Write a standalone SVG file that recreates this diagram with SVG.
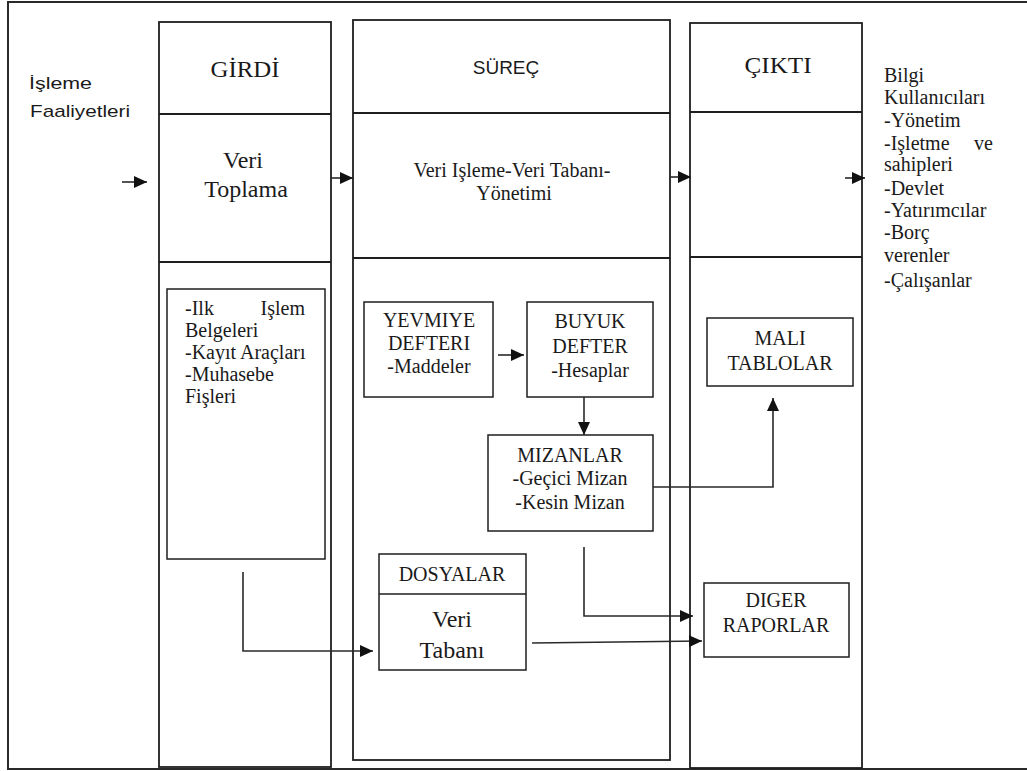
<svg xmlns="http://www.w3.org/2000/svg" width="1027" height="771" viewBox="0 0 1027 771">
<style>
.frame{fill:none;stroke:#2a2a2a;stroke-width:2}
.col{fill:none;stroke:#1e1e1e;stroke-width:1.8}
.box{fill:#fff;stroke:#1e1e1e;stroke-width:1.5}
.ser{font-family:"Liberation Serif","Times New Roman",serif;fill:#1a1a1a}
.san{font-family:"Liberation Sans",Arial,sans-serif;fill:#1a1a1a}
.c{text-anchor:middle}
.f20{font-size:20px}
.f24{font-size:24px}
.con{fill:none;stroke:#2a2a2a;stroke-width:1.6}
</style>
<defs>
<marker id="ah" markerUnits="userSpaceOnUse" markerWidth="14" markerHeight="12" refX="13" refY="6" orient="auto">
<path d="M0,0 L13,6 L0,12 z" fill="#111"/>
</marker>
</defs>
<rect width="1027" height="771" fill="#fff"/>
<path class="frame" d="M1027,2 H8 V769 H1027"/>

<g id="label-isleme">
<text class="san" font-size="17" x="29" y="89" textLength="63" lengthAdjust="spacingAndGlyphs">İşleme</text>
<text class="san" font-size="17" x="30" y="117" textLength="100" lengthAdjust="spacingAndGlyphs">Faaliyetleri</text>
</g>

<g id="col-girdi">
<rect class="col" x="159" y="22" width="172" height="745"/>
<line class="col" x1="159" y1="114" x2="331" y2="114"/>
<line class="col" x1="159" y1="262" x2="331" y2="262"/>
<text class="ser f24 c" x="245" y="77" textLength="69" lengthAdjust="spacingAndGlyphs">GİRDİ</text>
<text class="ser f24 c" x="243" y="168">Veri</text>
<text class="ser f24 c" x="246" y="197">Toplama</text>
</g>

<g id="box-belgeler">
<rect class="box" x="167" y="289" width="158" height="270"/>
<text class="ser f20" x="185" y="315">-Ilk</text>
<text class="ser f20" x="305" y="315" text-anchor="end">Işlem</text>
<text class="ser f20" x="185" y="337">Belgeleri</text>
<text class="ser f20" x="185" y="359">-Kayıt Araçları</text>
<text class="ser f20" x="185" y="381">-Muhasebe</text>
<text class="ser f20" x="185" y="403">Fişleri</text>
</g>

<g id="col-surec">
<rect class="col" x="353" y="20" width="317" height="740"/>
<line class="col" x1="353" y1="113" x2="670" y2="113"/>
<line class="col" x1="353" y1="258" x2="670" y2="258"/>
<text class="san c" font-size="19" x="506" y="74">SÜREÇ</text>
<text class="ser f20 c" x="512" y="177">Veri Işleme-Veri Tabanı-</text>
<text class="ser f20 c" x="514" y="200">Yönetimi</text>
</g>

<g id="box-yevmiye">
<rect class="box" x="364" y="302" width="129" height="95"/>
<text class="ser f20 c" x="429" y="327">YEVMIYE</text>
<text class="ser f20 c" x="429" y="350">DEFTERI</text>
<text class="ser f20 c" x="429" y="373">-Maddeler</text>
</g>

<g id="box-buyuk">
<rect class="box" x="527" y="302" width="126" height="95"/>
<text class="ser f20 c" x="590" y="328">BUYUK</text>
<text class="ser f20 c" x="590" y="353">DEFTER</text>
<text class="ser f20 c" x="590" y="377">-Hesaplar</text>
</g>

<g id="box-mizanlar">
<rect class="box" x="488" y="435" width="165" height="96"/>
<text class="ser f20 c" x="570" y="462">MIZANLAR</text>
<text class="ser f20 c" x="570" y="485">-Geçici Mizan</text>
<text class="ser f20 c" x="570" y="509">-Kesin Mizan</text>
</g>

<g id="box-dosyalar">
<rect class="box" x="379" y="554" width="147" height="116"/>
<line class="box" x1="379" y1="594" x2="526" y2="594"/>
<text class="ser f20 c" x="452" y="581">DOSYALAR</text>
<text class="ser f24 c" x="452" y="627">Veri</text>
<text class="ser f24 c" x="452" y="658">Tabanı</text>
</g>

<g id="col-cikti">
<rect class="col" x="690" y="23" width="172" height="745"/>
<line class="col" x1="690" y1="112" x2="862" y2="112"/>
<line class="col" x1="690" y1="257" x2="862" y2="257"/>
<text class="ser f24 c" x="778" y="73" textLength="67" lengthAdjust="spacingAndGlyphs">ÇIKTI</text>
</g>

<g id="box-mali">
<rect class="box" x="707" y="318" width="146" height="68"/>
<text class="ser f20 c" x="780" y="345">MALI</text>
<text class="ser f20 c" x="780" y="370">TABLOLAR</text>
</g>

<g id="box-diger">
<rect class="box" x="704" y="583" width="145" height="74"/>
<text class="ser f20 c" x="776" y="607">DIGER</text>
<text class="ser f20 c" x="776" y="632">RAPORLAR</text>
</g>

<g id="label-bilgi">
<text class="ser f20" x="884" y="82">Bilgi</text>
<text class="ser f20" x="884" y="104">Kullanıcıları</text>
<text class="ser f20" x="884" y="127">-Yönetim</text>
<text class="ser f20" x="884" y="150">-Işletme</text>
<text class="ser f20" x="993" y="150" text-anchor="end">ve</text>
<text class="ser f20" x="884" y="171">sahipleri</text>
<text class="ser f20" x="884" y="195">-Devlet</text>
<text class="ser f20" x="884" y="217">-Yatırımcılar</text>
<text class="ser f20" x="884" y="239">-Borç</text>
<text class="ser f20" x="884" y="262">verenler</text>
<text class="ser f20" x="884" y="287">-Çalışanlar</text>
</g>

<g id="connectors">
<line class="con" x1="122" y1="182" x2="147" y2="182" marker-end="url(#ah)"/>
<line class="con" x1="331" y1="178" x2="353" y2="178" marker-end="url(#ah)"/>
<line class="con" x1="670" y1="177" x2="691" y2="177" marker-end="url(#ah)"/>
<line class="con" x1="845" y1="178" x2="865" y2="178" marker-end="url(#ah)"/>
<line class="con" x1="498" y1="355" x2="524" y2="355" marker-end="url(#ah)"/>
<line class="con" x1="584" y1="397" x2="584" y2="435" marker-end="url(#ah)"/>
<polyline class="con" points="653,487 773,487 773,398" marker-end="url(#ah)"/>
<polyline class="con" points="243,572 243,651 373,651" marker-end="url(#ah)"/>
<polyline class="con" points="584,547 584,616 693,616" marker-end="url(#ah)"/>
<line class="con" x1="532" y1="643" x2="702" y2="641" marker-end="url(#ah)"/>
</g>
</svg>
